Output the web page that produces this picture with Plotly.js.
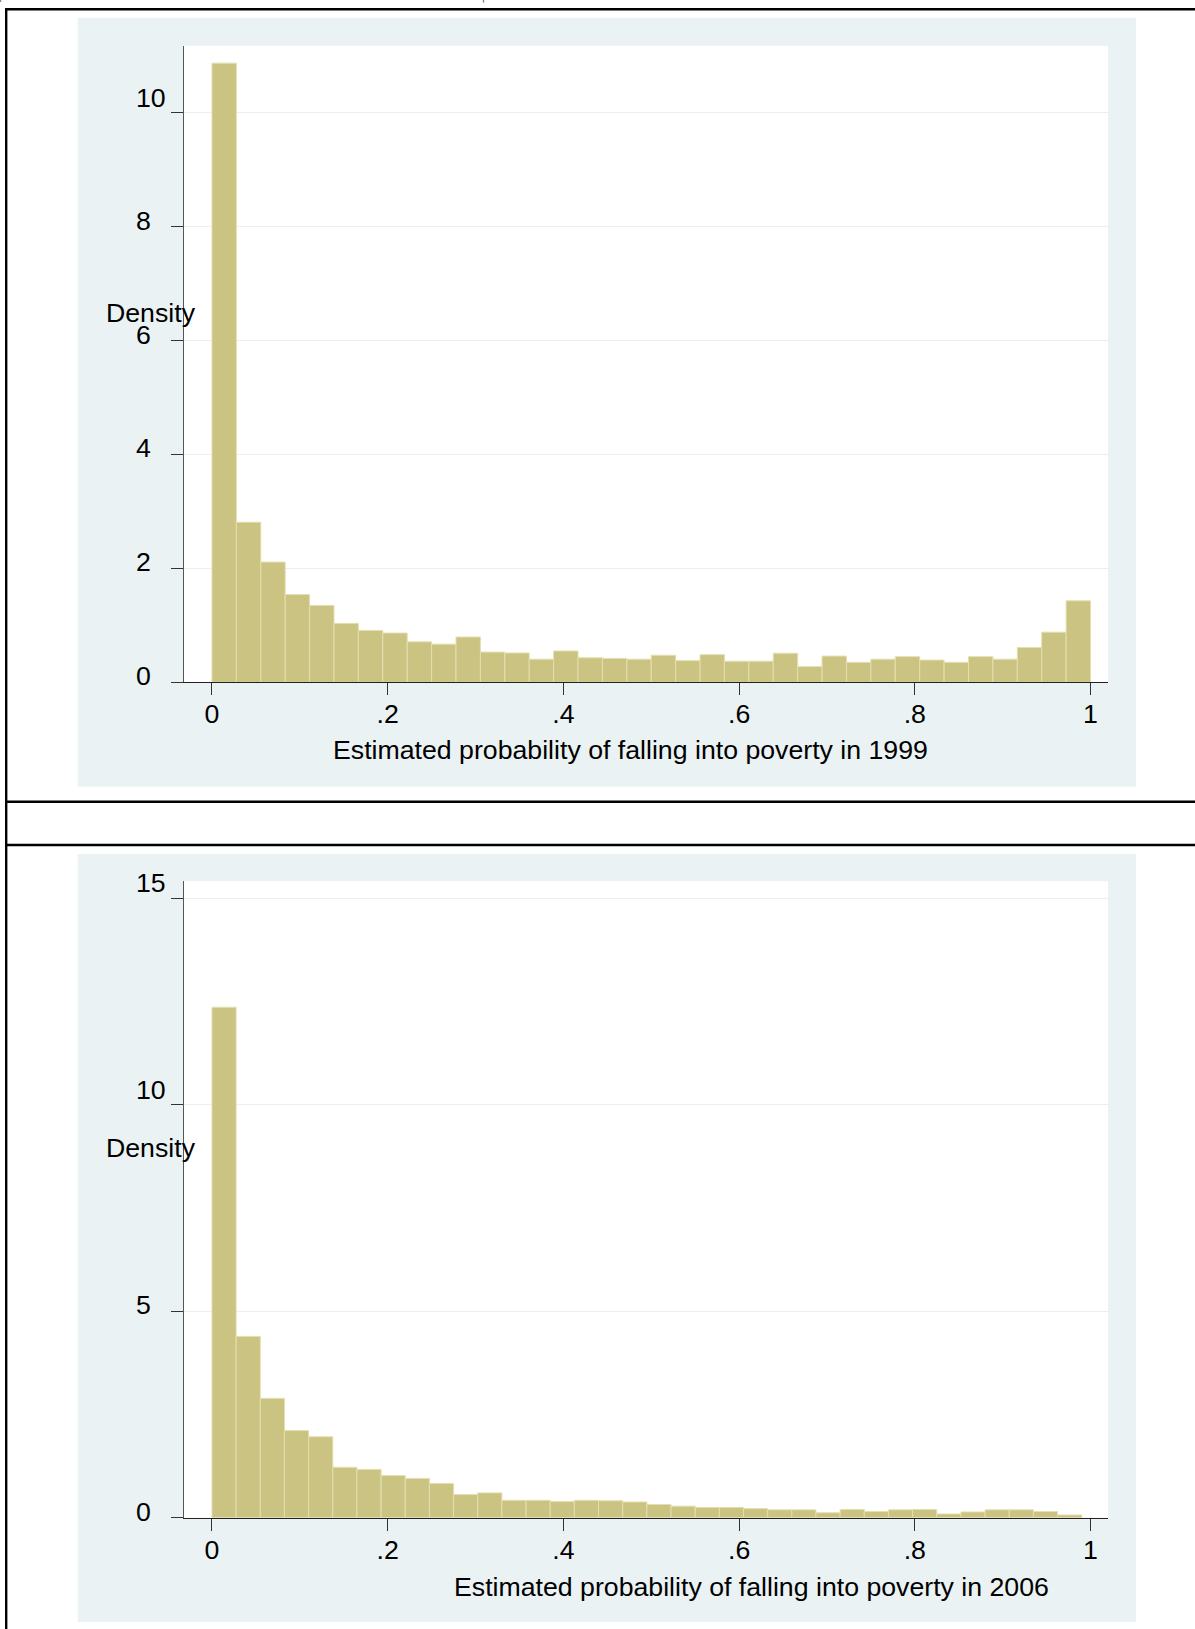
<!DOCTYPE html>
<html>
<head>
<meta charset="utf-8">
<script src="https://cdn.plot.ly/plotly-3.0.1.min.js"></script>
<style>
  html, body { margin: 0; padding: 0; background: #ffffff; }
  #chart { width: 1195px; height: 1629px; }
</style>
</head>
<body>
<div id="chart"></div>
<script>
// ---- Data ----
// Histogram densities, 36 bins each
const density1999 = [10.87, 2.81, 2.11, 1.54, 1.35, 1.035, 0.91, 0.865, 0.71, 0.67,
                     0.795, 0.53, 0.515, 0.405, 0.55, 0.43, 0.42, 0.405, 0.475, 0.38,
                     0.485, 0.37, 0.37, 0.51, 0.275, 0.46, 0.35, 0.405, 0.45, 0.39,
                     0.35, 0.45, 0.405, 0.61, 0.88, 1.43];
const density2006 = [12.36, 4.39, 2.89, 2.11, 1.96, 1.22, 1.17, 1.02, 0.95, 0.83,
                     0.56, 0.60, 0.42, 0.42, 0.39, 0.42, 0.41, 0.38, 0.32, 0.28,
                     0.25, 0.25, 0.22, 0.19, 0.19, 0.12, 0.20, 0.15, 0.19, 0.20,
                     0.09, 0.14, 0.19, 0.19, 0.15, 0.065];
// Bin layout: start value and bin width
const binStart1999 = 0, binWidth1999 = 1 / 36;
const binStart2006 = 0, binWidth2006 = 0.99 / 36;

const xTickVals = [0, 0.2, 0.4, 0.6, 0.8, 1];
const xTickText = ['0', '.2', '.4', '.6', '.8', '1'];
const yTickVals1999 = [0, 2, 4, 6, 8, 10];
const yTickText1999 = ['0', '2', '4', '6', '8', '10'];
const yTickVals2006 = [0, 5, 10, 15];
const yTickText2006 = ['0', '5', '10', '15'];

const yTitle = 'Density';
const xTitle1999 = 'Estimated probability of falling into poverty in 1999';
const xTitle2006 = 'Estimated probability of falling into poverty in 2006';

// ---- Layout helpers ----
const W = 1195, H = 1629;
const px = v => v / W;
const py = v => 1 - v / H;
const FONT = 'Liberation Sans, Arial, Helvetica, sans-serif';
const FS = 26.7;
const BAR_FILL = '#cbc382';
const BAR_LINE = '#e3dfae';
const PANEL_BG = '#eaf2f3';
const GRID = '#e9f0f1';

function centers(start, width, n) {
  const c = [];
  for (let i = 0; i < n; i++) c.push(start + (i + 0.5) * width);
  return c;
}

const traces = [
  {
    type: 'bar',
    x: centers(binStart1999, binWidth1999, density1999.length),
    y: density1999,
    width: binWidth1999,
    xaxis: 'x', yaxis: 'y',
    marker: { color: BAR_FILL, line: { color: BAR_LINE, width: 1 } },
    hoverinfo: 'skip'
  },
  {
    type: 'bar',
    x: centers(binStart2006, binWidth2006, density2006.length),
    y: density2006,
    width: binWidth2006,
    xaxis: 'x2', yaxis: 'y2',
    marker: { color: BAR_FILL, line: { color: BAR_LINE, width: 1 } },
    hoverinfo: 'skip'
  }
];

const xDomain = [px(183.5), px(1108)];
const xRange = [-0.0324, 1.0199];

function xAxis(anchor) {
  return {
    domain: xDomain, range: xRange, anchor: anchor,
    tickmode: 'array', tickvals: xTickVals, ticktext: xTickText,
    ticks: 'outside', ticklen: 12, tickwidth: 1, tickcolor: '#333',
    showline: true, linecolor: '#222', linewidth: 1,
    showgrid: false, zeroline: false,
    tickfont: { family: FONT, size: FS, color: '#000' },
    ticklabelstandoff: -4,
    fixedrange: true
  };
}
function yAxis(anchor, domain, range, vals) {
  return {
    domain: domain, range: range, anchor: anchor,
    tickmode: 'array', tickvals: vals,
    showticklabels: false,
    ticks: 'outside', ticklen: 12, tickwidth: 1, tickcolor: '#333',
    showline: true, linecolor: '#555', linewidth: 1,
    showgrid: true, gridcolor: GRID, gridwidth: 1,
    zeroline: false, fixedrange: true
  };
}

const annotations = [];
function yLabels(vals, texts, yref) {
  vals.forEach((v, i) => {
    annotations.push({
      xref: 'paper', yref: yref, x: px(135.5), y: v,
      xanchor: 'left', yanchor: 'middle',
      yshift: texts[i].length > 1 ? 15 : 6,
      text: texts[i], showarrow: false, borderpad: 0, borderwidth: 0,
      font: { family: FONT, size: FS, color: '#000' }
    });
  });
}
yLabels(yTickVals1999, yTickText1999, 'y');
yLabels(yTickVals2006, yTickText2006, 'y2');

function textAt(text, x, y) {
  annotations.push({
    xref: 'paper', yref: 'paper', x: px(x), y: py(y),
    xanchor: 'center', yanchor: 'middle',
    text: text, showarrow: false, borderpad: 0, borderwidth: 0,
    font: { family: FONT, size: FS, color: '#000' }
  });
}
textAt(yTitle, 151.5, 313);
textAt(yTitle, 151.5, 1148);
textAt(xTitle1999, 631, 750);
textAt(xTitle2006, 751, 1587);

function rectPx(x0, y0, x1, y1, color, layer) {
  return {
    type: 'rect', xref: 'paper', yref: 'paper',
    x0: px(x0), x1: px(x1), y0: py(y1), y1: py(y0),
    fillcolor: color, line: { width: 0 }, layer: layer || 'below'
  };
}

const shapes = [
  // light-blue graph regions
  rectPx(77.7, 17.7, 1136, 786.7, PANEL_BG),
  rectPx(77.7, 854, 1136, 1622, PANEL_BG),
  // white plot regions
  { type: 'rect', xref: 'x domain', yref: 'y domain', x0: 0, x1: 1, y0: 0, y1: 1,
    fillcolor: '#ffffff', line: { width: 0 }, layer: 'below' },
  { type: 'rect', xref: 'x2 domain', yref: 'y2 domain', x0: 0, x1: 1, y0: 0, y1: 1,
    fillcolor: '#ffffff', line: { width: 0 }, layer: 'below' },
  // black frame lines
  rectPx(5, 8, 1195, 10.6, '#000', 'above'),
  rectPx(5, 8, 7.4, 1629, '#000', 'above'),
  rectPx(5, 800.6, 1195, 803, '#000', 'above'),
  rectPx(5, 843.8, 1195, 846.2, '#000', 'above'),
  // tiny fragments at very top
  rectPx(0, 0, 1.2, 2, '#888', 'above'),
  rectPx(482.8, 0, 484.2, 2.6, '#888', 'above')
];

const layout = {
  width: W, height: H,
  margin: { l: 0, r: 0, t: 0, b: 0, pad: 0 },
  paper_bgcolor: '#ffffff',
  plot_bgcolor: 'rgba(0,0,0,0)',
  showlegend: false,
  bargap: 0,
  font: { family: FONT, size: FS, color: '#000' },
  xaxis: xAxis('y'),
  yaxis: yAxis('x', [py(682.3), py(45.7)], [0, 11.176], yTickVals1999),
  xaxis2: xAxis('y2'),
  yaxis2: yAxis('x2', [py(1517.7), py(881.3)], [0, 15.41], yTickVals2006),
  shapes: shapes,
  annotations: annotations
};

Plotly.newPlot('chart', traces, layout, { displayModeBar: false, staticPlot: true });
</script>
</body>
</html>
